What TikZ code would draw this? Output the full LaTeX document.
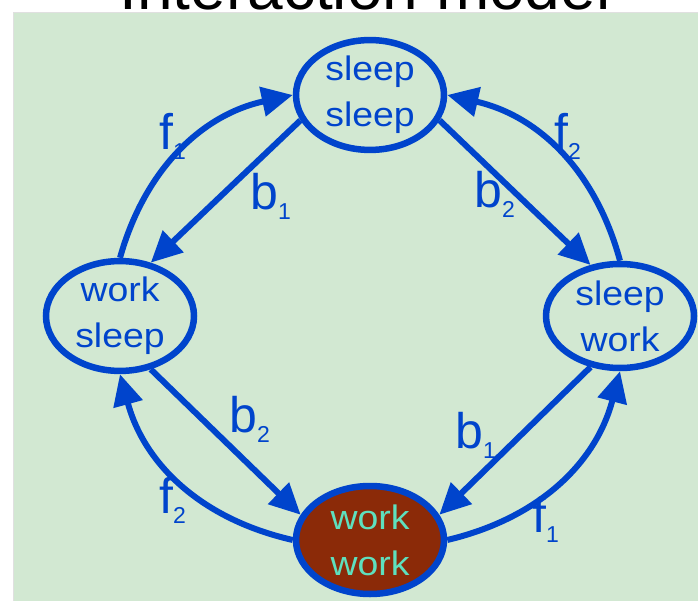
\documentclass[tikz,border=0pt]{standalone}
\usepackage{fontspec}
\setmainfont{Liberation Sans}
\newfontfamily\nodefont[FakeStretch=1.1]{Liberation Sans}
\usetikzlibrary{shapes.geometric,arrows.meta}
\definecolor{bg}{RGB}{210,232,210}
\definecolor{nblue}{RGB}{0,68,204}
\definecolor{wfill}{RGB}{139,42,8}
\definecolor{turq}{RGB}{94,224,190}
\newcommand\flab[2]{{\fontsize{50}{50}\selectfont #1}\raisebox{-10pt}{\fontsize{23}{23}\selectfont #2}}
\begin{document}
\begin{tikzpicture}[x=1pt,y=-1pt,
  state/.style={ellipse, draw=nblue, line width=6.5pt, minimum width=148pt,
    minimum height=104pt, inner sep=0pt, align=center, text=nblue,
    font=\nodefont\fontsize{34}{46}\selectfont},
  conn/.style={draw=nblue, line width=6pt, -{Triangle[length=31pt,width=29pt]}},
  lab/.style={inner sep=0pt, anchor=base west, text=nblue}]
\useasboundingbox (0,0) rectangle (698,601);
\clip (0,0) rectangle (698,601);
\node[anchor=base, inner sep=0pt, font=\fontsize{64}{64}\selectfont] (title) at (365,10) {Interaction model};
\fill[bg] (13,12) rectangle (698,601);
\draw[black!12, line width=1.5pt] (13.5,601) -- (13.5,12.5) -- (698,12.5);

\node[state] (T) at (370,95) {sleep\\sleep};
\node[state] (L) at (120,316) {work\\sleep};
\node[state] (R) at (620,316) {sleep\\work};
\node[state, fill=wfill, text=turq, minimum height=108pt] (B) at (370,540) {work\\work};

\draw[conn] (L.north) to[bend left=31] (T.west);
\draw[conn] (T.200) -- (L.60);
\draw[conn] (R.north) to[bend right=31] (T.east);
\draw[conn] (T.340) -- (R.120);
\draw[conn] (L.300) -- (B.160);
\draw[conn] (B.west) to[bend left=31] (L.south);
\draw[conn] (R.240) -- (B.20);
\draw[conn] (B.east) to[bend right=31] (R.south);

\node[lab] (lf1a) at (159,150) {\flab{f}{1}};
\node[lab] (lb1a) at (250,210) {\flab{b}{1}};
\node[lab] (lf2a) at (554,150) {\flab{f}{2}};
\node[lab] (lb2a) at (474,208) {\flab{b}{2}};
\node[lab] (lb2b) at (229,432) {\flab{b}{2}};
\node[lab] (lf2b) at (159,513) {\flab{f}{2}};
\node[lab] (lb1b) at (455,448) {\flab{b}{1}};
\node[lab] (lf1b) at (532,532) {\flab{f}{1}};
\end{tikzpicture}
\end{document}
